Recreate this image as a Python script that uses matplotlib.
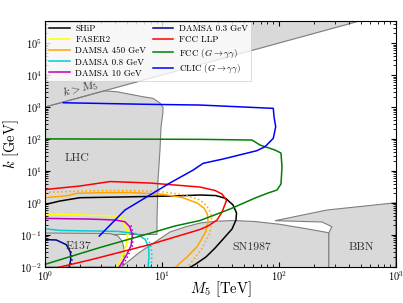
import numpy as np
import matplotlib
matplotlib.use('Agg')
import matplotlib.pyplot as plt
from matplotlib.patches import Polygon

plt.rcParams.update({
    'font.family': 'serif',
    'font.serif': ['cmr10', 'DejaVu Serif'],
    'mathtext.fontset': 'cm',
    'axes.formatter.use_mathtext': True,
    'axes.unicode_minus': False,
})

# ---------------- data (M5 in TeV, k in GeV) ----------------
xlim = (1, 1000)
ylim = (1e-2, 5e5)

# excluded regions
kM5_m5 = [1, 500]
lhc_m5 = [1, 9.08, 9.08, 9.26, 9.63, 9.83, 10.2, 10.2, 9.63, 8.39, 6.89, 4.13, 3.2, 1]
lhc_k = [0.104, 0.104, 0.294, 5.23, 45.3, 237, 649, 1000, 1334, 1870, 2099, 3006, 3200, 1000]
e137_m5 = [1, 3.60, 4.21, 4.56, 4.74, 4.74, 4.60, 1]
e137_k = [0.1155, 0.111, 0.093, 0.0649, 0.0392, 0.0221, 0.01, 0.01]
sn_m5 = [4.21, 4.83, 6.50, 7.91, 11.7, 15.8, 21.2, 28.5, 40.6, 62.6, 102, 167.5, 266, 268, 268]
sn_k = [0.008, 0.0124, 0.0294, 0.047, 0.124, 0.178, 0.237, 0.268, 0.284, 0.264, 0.216, 0.160, 0.118, 0.118, 0.008]
bbn_m5 = [92.8, 258, 1000, 1000, 268, 268, 285, 234, 92.8]
bbn_k = [0.280, 0.604, 1.02, 0.008, 0.008, 0.118, 0.182, 0.255, 0.280]

# sensitivity curves
ship_m5 = [1, 1.343, 1.992, 4.38, 11.7, 21.2, 29.0, 35.3, 40.6, 43.5, 43.0, 39.8, 34.0, 28.5, 23.8, 19.2, 16.4]
ship_k = [0.898, 1.155, 1.466, 1.54, 1.65, 1.78, 1.71, 1.38, 0.866, 0.487, 0.294, 0.154, 0.0806, 0.0392, 0.0205, 0.0120, 0.00866]

faser_m5 = [1, 1.343, 2.426, 3.75, 4.27, 4.64, 5.00, 5.06, 4.85, 4.45, 4.20, 4.05]
faser_k = [0.432, 0.446, 0.413, 0.40, 0.37, 0.26, 0.145, 0.080, 0.038, 0.0166, 0.0125, 0.009]
faser_d_m5 = [4.45, 4.85, 5.15, 5.20, 4.98, 4.60, 4.35]
faser_d_k = [0.40, 0.30, 0.16, 0.080, 0.035, 0.016, 0.009]

d450_m5 = [1, 1.542, 1.878, 2.954, 5.33, 10.2, 14.9, 20.0, 22.9, 24.5, 24.8, 23.8, 21.6, 19.9, 16.4, 14.3, 12.4]
d450_k = [1.466, 1.69, 2.01, 2.10, 2.13, 1.87, 1.49, 1.0, 0.698, 0.453, 0.274, 0.133, 0.0698, 0.0422, 0.0205, 0.0133, 0.00805]
d450_d_m5 = [1, 1.636, 2.954, 5.33, 9.63, 15.8, 21.2, 24.3, 26.3, 26.8, 25.3, 21.6, 17.7, 15.5]
d450_d_k = [2.13, 2.29, 2.46, 2.46, 2.29, 1.78, 1.24, 0.806, 0.453, 0.237, 0.1, 0.034, 0.0133, 0.00805]

d08_m5 = [1, 1.343, 2.426, 4.20, 6.00, 7.17, 7.70, 7.75, 7.60]
d08_k = [0.157, 0.139, 0.134, 0.130, 0.110, 0.074, 0.042, 0.020, 0.009]
d08_d_m5 = [7.50, 8.00, 8.20, 8.15, 8.00]
d08_d_k = [0.080, 0.050, 0.028, 0.015, 0.009]

d10_m5 = [1, 2.426, 3.97, 4.83, 5.33, 5.58, 5.45, 4.95, 4.25]
d10_k = [0.33, 0.315, 0.294, 0.26, 0.178, 0.097, 0.047, 0.0228, 0.009]
d10_d_m5 = [5.45, 5.70, 5.60, 5.15, 4.45]
d10_d_k = [0.20, 0.10, 0.047, 0.0228, 0.009]

d03_m5 = [1, 1.25, 1.52, 1.65, 1.66, 1.60]
d03_k = [0.072, 0.0698, 0.050, 0.029, 0.017, 0.009]
d03_d_m5 = [1.60, 1.70, 1.70, 1.64]
d03_d_k = [0.040, 0.025, 0.016, 0.009]

fccllp_m5 = [1, 1.992, 3.60, 7.91, 21.2, 28.5, 32.7, 35.7, 32.7, 29.6, 24.8, 21.2, 7.91, 2.426, 1.343, 1.104]
fccllp_k = [2.64, 3.40, 4.69, 4.22, 3.16, 2.46, 1.91, 1.20, 0.523, 0.294, 0.191, 0.149, 0.0505, 0.0166, 0.01, 0.00835]

fccgg_m5 = [1, 2.954, 7.91, 12.9, 21.2, 38.3, 62.6, 80.8, 96.5, 104.4, 106.5, 104.4, 92.8, 69.1, 59.0, 21.2, 1]
fccgg_k = [0.0121, 0.0407, 0.113, 0.191, 0.284, 0.649, 1.43, 2.05, 2.55, 3.93, 13.3, 36.5, 45.3, 64.9, 93, 97.8, 101]

clic_m5 = [2.914, 4.83, 11.7, 18.5, 22.5, 33.3, 64.7, 76.2, 89.7, 94.1, 91.0, 89.7, 21.2, 7.91, 1.434]
clic_k = [0.093, 0.604, 4.22, 10.7, 17.4, 23.7, 43.1, 57.4, 105, 242, 497, 910, 1155, 1213, 1362]

gray_fill = '#d9d9d9'
gray_edge = '#7f7f7f'

fig = plt.figure(figsize=(4.03, 3.03), dpi=100)
ax = fig.add_axes([45/403, 1-267/303, 350.7/403, 246.3/303])
ax.set_xscale('log')
ax.set_yscale('log')

# k > M5 region
m = np.array(kM5_m5, dtype=float)
ax.fill_between(m, 1000*m, ylim[1]*2, color=gray_fill, lw=0, zorder=0)
ax.plot(m, 1000*m, color=gray_edge, lw=0.8, zorder=1)

for xs, ys in [(lhc_m5, lhc_k), (e137_m5, e137_k), (sn_m5, sn_k), (bbn_m5, bbn_k)]:
    ax.add_patch(Polygon(np.column_stack([xs, ys]), closed=True, facecolor=gray_fill,
                         edgecolor=gray_edge, lw=0.8, zorder=0))

lw = 1.1
ax.plot(ship_m5, ship_k, color='black', lw=lw, label='SHiP')
ax.plot(faser_m5, faser_k, color='yellow', lw=lw, label='FASER2')
ax.plot(faser_d_m5, faser_d_k, color='yellow', lw=lw, ls=':')
ax.plot(d450_m5, d450_k, color='orange', lw=lw, label='DAMSA 450 GeV')
ax.plot(d450_d_m5, d450_d_k, color='orange', lw=lw, ls=':')
ax.plot(d08_m5, d08_k, color='darkturquoise', lw=lw, label='DAMSA 0.8 GeV')
ax.plot(d08_d_m5, d08_d_k, color='darkturquoise', lw=lw, ls=':')
ax.plot(d10_m5, d10_k, color='m', lw=lw, label='DAMSA 10 GeV')
ax.plot(d10_d_m5, d10_d_k, color='m', lw=lw, ls=':')
ax.plot(d03_m5, d03_k, color='darkblue', lw=lw, label='DAMSA 0.3 GeV')
ax.plot(d03_d_m5, d03_d_k, color='darkblue', lw=lw, ls=':')
ax.plot(fccllp_m5, fccllp_k, color='red', lw=lw, label='FCC LLP')
ax.plot(fccgg_m5, fccgg_k, color='green', lw=lw, label=r'FCC $(G\to\gamma\gamma)$')
ax.plot(clic_m5, clic_k, color='blue', lw=lw, label=r'CLIC $(G\to\gamma\gamma)$')

ax.text(1.88, 25.5, 'LHC', fontsize=8.5, ha='center', va='center', color='#333333')
ax.text(1.95, 0.0453, 'E137', fontsize=8.5, ha='center', va='center', color='#333333')
ax.text(58.7, 0.0401, 'SN1987', fontsize=8.5, ha='center', va='center', color='#333333')
ax.text(505, 0.0401, 'BBN', fontsize=8.5, ha='center', va='center', color='#333333')
ax.text(2.0, 3700, r'$k > M_5$', fontsize=8.5, ha='center', va='center', rotation=15, color='#333333')

ax.set_xlim(*xlim)
ax.set_ylim(*ylim)
ax.tick_params(which='both', direction='in', top=True, right=True, labelsize=7.5, pad=2)
ax.tick_params(which='major', length=3.5)
ax.tick_params(which='minor', length=2)
ax.set_xlabel(r'$M_5$ [TeV]', fontsize=10.5)
ax.set_ylabel(r'$k$ [GeV]', fontsize=10.5)
ax.xaxis.set_label_coords(0.5, -0.052)
ax.yaxis.set_label_coords(-0.068, 0.5)

leg = ax.legend(loc='upper left', ncol=2, fontsize=6.5, fancybox=False, framealpha=0.8,
                edgecolor='#cccccc', labelspacing=0.3, handlelength=2.3, handletextpad=0.6,
                columnspacing=0.7, borderaxespad=0.1, borderpad=0.35)
leg.get_frame().set_linewidth(0.6)

fig.savefig('out.png', dpi=100)
